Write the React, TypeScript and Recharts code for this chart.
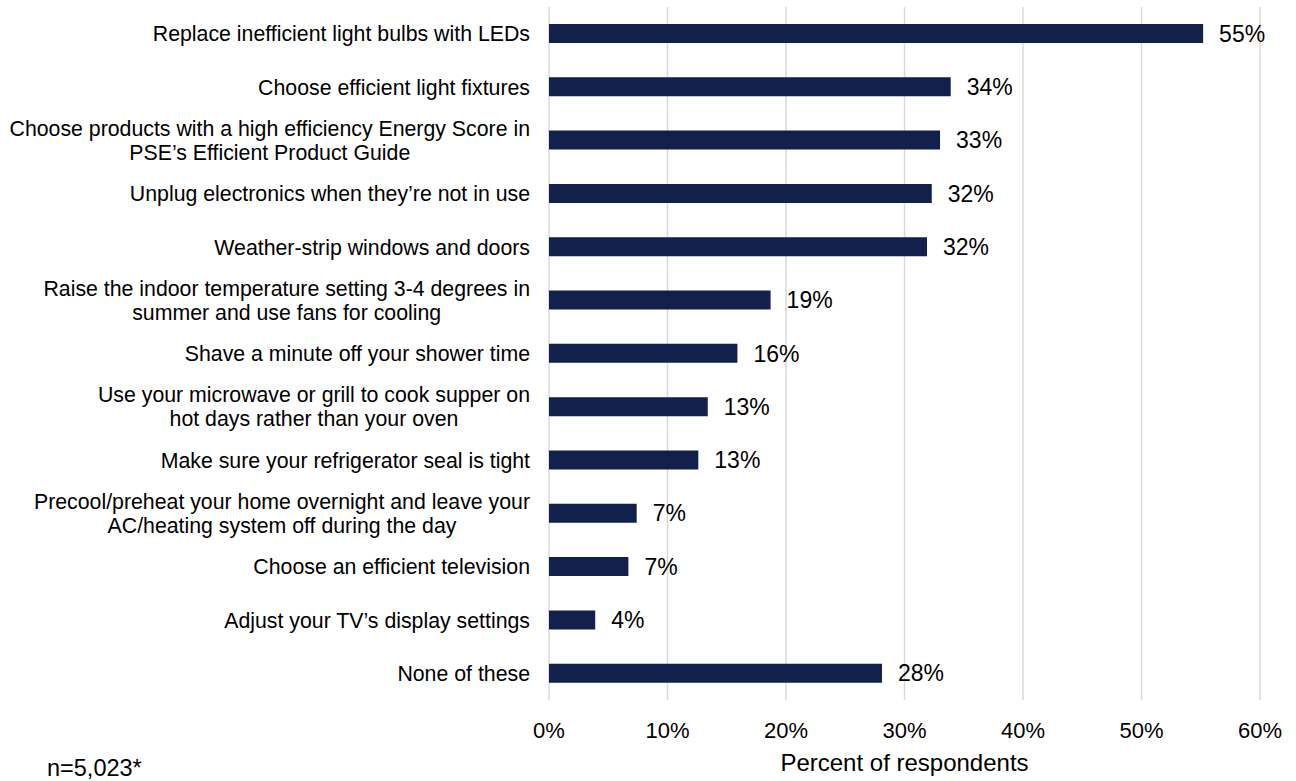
import React from 'react';
import { BarChart, Bar, XAxis, YAxis, CartesianGrid, LabelList } from 'recharts';

const categories: string[] = [
  'Replace inefficient light bulbs with LEDs',
  'Choose efficient light fixtures',
  'Choose products with a high efficiency Energy Score in\nPSE\u2019s Efficient Product Guide',
  'Unplug electronics when they\u2019re not in use',
  'Weather-strip windows and doors',
  'Raise the indoor temperature setting 3-4 degrees in\nsummer and use fans for cooling',
  'Shave a minute off your shower time',
  'Use your microwave or grill to cook supper on\nhot days rather than your oven',
  'Make sure your refrigerator seal is tight',
  'Precool/preheat your home overnight and leave your\nAC/heating system off during the day',
  'Choose an efficient television',
  'Adjust your TV\u2019s display settings',
  'None of these',
];

const values: number[] = [55.2, 33.9, 33.0, 32.3, 31.9, 18.7, 15.9, 13.4, 12.6, 7.4, 6.7, 3.9, 28.1];

const xTicks: number[] = [0, 10, 20, 30, 40, 50, 60];

const FONT = '"Liberation Sans", Arial, sans-serif';
const CAT_SIZE = 21.3;
const LINE_H = 24;

const data = categories.map((name, i) => ({ name, value: values[i] }));

let ctx: CanvasRenderingContext2D | null = null;
function measure(s: string): number {
  if (!ctx) {
    const c = document.createElement('canvas');
    ctx = c.getContext('2d');
  }
  if (!ctx) return s.length * CAT_SIZE * 0.5;
  ctx.font = `${CAT_SIZE}px "Liberation Sans"`;
  return ctx.measureText(s).width;
}

const CatTick = (props: any) => {
  const { x, y, payload } = props;
  const lines: string[] = String(payload.value).split('\n');
  const right = x;
  if (lines.length === 1) {
    return (
      <text x={right} y={y} dy="0.36em" textAnchor="end" fontSize={CAT_SIZE} fontFamily={FONT} fill="#000">
        {lines[0]}
      </text>
    );
  }
  const w = Math.max(...lines.map(measure));
  const cx = right - w / 2;
  return (
    <g>
      {lines.map((l, i) => (
        <text
          key={i}
          x={cx}
          y={y + (i - (lines.length - 1) / 2) * LINE_H}
          dy="0.36em"
          textAnchor="middle"
          fontSize={CAT_SIZE}
          fontFamily={FONT}
          fill="#000"
        >
          {l}
        </text>
      ))}
    </g>
  );
};

export default function App() {
  return (
    <div style={{ position: 'absolute', left: 0, top: 0, width: 1296, height: 781, background: '#fff' }}>
      <BarChart
        width={1296}
        height={781}
        data={data}
        layout="vertical"
        margin={{ top: 7, right: 36, bottom: 0, left: 0 }}
      >
        <CartesianGrid horizontal={false} stroke="#d9d9d9" strokeWidth={1.5} />
        <XAxis
          type="number"
          domain={[0, 60]}
          ticks={xTicks}
          interval={0}
          height={81}
          axisLine={false}
          tickLine={false}
          tickSize={6}
          tickMargin={16}
          tickFormatter={(v: number) => `${v}%`}
          tick={{ fontSize: 22, fill: '#000', fontFamily: FONT }}
          label={{
            value: 'Percent of respondents',
            position: 'insideBottom',
            offset: 10,
            style: { fontSize: 24, fill: '#000', fontFamily: FONT },
          }}
        />
        <YAxis
          type="category"
          dataKey="name"
          width={549}
          axisLine={false}
          tickLine={false}
          tickSize={0}
          tickMargin={19}
          interval={0}
          tick={<CatTick />}
        />
        <Bar dataKey="value" fill="#12214b" barSize={19} isAnimationActive={false}>
          <LabelList
            dataKey="value"
            position="right"
            offset={16}
            formatter={(v: any) => `${Math.round(Number(v))}%`}
            style={{ fontSize: 23, fill: '#000', fontFamily: FONT }}
          />
        </Bar>
      </BarChart>
      <div
        style={{
          position: 'absolute',
          left: 47,
          top: 756,
          fontSize: 23.5,
          lineHeight: '24px',
          fontFamily: FONT,
          color: '#000',
          whiteSpace: 'nowrap',
        }}
      >
        n=5,023*
      </div>
    </div>
  );
}
